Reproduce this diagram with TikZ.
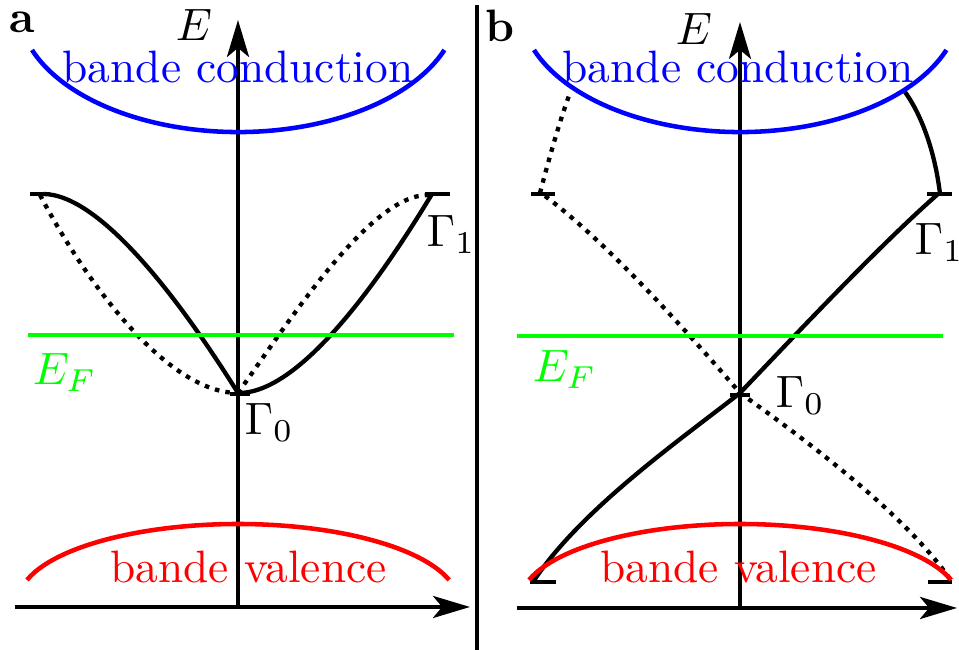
\documentclass[tikz,border=0pt]{standalone}
\usetikzlibrary{arrows.meta}
\begin{document}
\begin{tikzpicture}[x=0.22026pt,y=0.22026pt,
  font=\fontsize{10}{12}\selectfont,
  every node/.style={inner sep=0pt},
  axisline/.style={line width=0.9pt,-{Stealth[length=8.15pt,width=4.85pt,inset=2pt]}},
  band/.style={line width=1.0pt},
  curvesolid/.style={line width=0.95pt},
  curvedot/.style={line width=0.95pt,dash pattern=on 1.0pt off 1.35pt},
  tick/.style={line width=0.95pt},
  fermi/.style={line width=0.95pt,green}]
\useasboundingbox (0,0) rectangle (959,650);
% divider
\coordinate (dtop) at (477,645);
\coordinate (dbot) at (477,0);
\draw[line width=0.72pt] (dtop) -- (dbot);

%%%%%%%%%%%%%%%% panel a
\node[font=\fontsize{10}{12}\selectfont\bfseries] (la) at (22,628) {a};
\coordinate (aO) at (238,43);
\coordinate (aEtip) at (238,630);
\coordinate (aXl) at (15,43);
\coordinate (aXtip) at (470,43);
\coordinate (aFl) at (28,315);
\coordinate (aFr) at (454,315);
\coordinate (aG0) at (238,257);
\coordinate (aL) at (43,456);
\coordinate (aR) at (432,456);
% curves
\draw[curvesolid] (aL) .. controls (100,456) and (180,350) .. (aG0);
\draw[curvesolid] (aG0) .. controls (300,256) and (380,370) .. (aR);
\draw[curvedot] (40,455) .. controls (90,360) and (170,257) .. (aG0);
\draw[curvedot] (aG0) .. controls (290,330) and (370,455) .. (428,455);
% ticks
\draw[tick] (30,456) -- (50,456);
\draw[tick] (425,456) -- (450,456);
\draw[tick] (230,256) -- (250,256);
% axes
\draw[axisline] (aO) -- (aEtip);
\draw[axisline] (aXl) -- (aXtip);
% bands
\draw[band,blue] (32,600) arc[start angle=200.4, end angle=339.6, x radius=48.46pt, y radius=27.75pt];
\draw[band,red] (27,70) arc[start angle=163.6, end angle=16.4, x radius=48.46pt, y radius=17.18pt];
\draw[fermi] (aFl) -- (aFr);
% labels
\node (aE) at (194,625) {$E$};
\node[blue,anchor=base] (acond) at (238,567) {bande conduction};
\node[red,anchor=base] (aval) at (248.5,67) {bande valence};
\node[green,anchor=base west] (aEF) at (32,265) {$E_F$};
\node[anchor=base west] (aG0l) at (244,215) {$\Gamma_0$};
\node[anchor=base west] (aG1l) at (426,403) {$\Gamma_1$};

%%%%%%%%%%%%%%%% panel b
\node[font=\fontsize{10}{12}\selectfont\bfseries] (lb) at (500,624) {b};
\coordinate (bO) at (740,42);
\coordinate (bEtip) at (740,628);
\coordinate (bXl) at (517,42);
\coordinate (bXtip) at (957,42);
\coordinate (bFl) at (517,314);
\coordinate (bFr) at (943,314);
\coordinate (bG0) at (740,257);
% curves
\draw[curvesolid] (533,68) .. controls (580,140) and (680,210) .. (bG0)
   .. controls (800,320) and (880,405) .. (938,456);
\draw[curvesolid] (940,456) .. controls (936,490) and (925,530) .. (905,558);
\draw[curvedot] (545,454) .. controls (610,405) and (690,315) .. (bG0)
   .. controls (820,200) and (910,130) .. (952,68);
\draw[curvedot] (540,457) .. controls (550,495) and (560,530) .. (570,557);
% ticks
\draw[tick] (531,456) -- (555,456);
\draw[tick] (927,456) -- (952,456);
\draw[tick] (730,255) -- (750,255);
\draw[tick] (530,68) -- (556,68);
\draw[tick] (928,68) -- (952,68);
% axes
\draw[axisline] (bO) -- (bEtip);
\draw[axisline] (bXl) -- (bXtip);
% bands
\draw[band,blue] (534,600) arc[start angle=200.4, end angle=339.6, x radius=48.46pt, y radius=27.75pt];
\draw[band,red] (529,70) arc[start angle=163.6, end angle=16.4, x radius=48.46pt, y radius=17.18pt];
\draw[fermi] (bFl) -- (bFr);
% labels
\node (bE) at (694,621) {$E$};
\node[blue,anchor=base] (bcond) at (738,567) {bande conduction};
\node[red,anchor=base] (bval) at (738.5,67) {bande valence};
\node[green,anchor=base west] (bEF) at (532,268) {$E_F$};
\node[anchor=base west] (bG0l) at (775,242) {$\Gamma_0$};
\node[anchor=base west] (bG1l) at (914,395) {$\Gamma_1$};
\end{tikzpicture}
\end{document}
